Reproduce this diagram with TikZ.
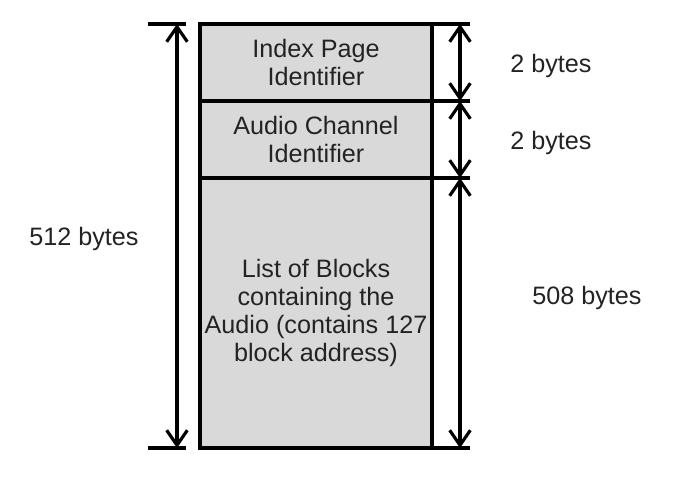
\documentclass[tikz,border=0pt]{standalone}
\usepackage{fontspec}
\setmainfont{Liberation Sans}
\usetikzlibrary{arrows.meta}
\definecolor{fieldgray}{RGB}{217,217,217}
\definecolor{textgray}{RGB}{35,35,35}
\begin{document}
\begin{tikzpicture}[x=0.03cm, y=-0.03cm, line width=2.7pt,
  field/.style={rectangle, draw=black, fill=fieldgray,
    align=center, anchor=north west,
    minimum width=6.96cm, inner sep=0, outer sep=0,
    text=textgray, font=\fontsize{21.5}{24}\selectfont},
  label/.style={anchor=base, inner sep=0, text=textgray,
    font=\fontsize{21.5}{24}\selectfont},
  dim/.style={{Straight Barb[length=0.45cm, width=0.62cm]}-{Straight Barb[length=0.45cm, width=0.62cm]}}]
  \useasboundingbox (0,0) rectangle (693,487);

  % the three fields of the index page
  \node[field, minimum height=2.31cm] (box1) at (200,24) {Index Page\\Identifier};
  \node[field, minimum height=2.31cm] (box2) at (box1.south west) {Audio Channel\\Identifier};
  \node[field, minimum height=8.1cm] (box3) at (box2.south west) {List of Blocks\\containing the\\Audio (contains 127\\block address)};

  % ticks on the right
  \draw (box1.north east) -- ([xshift=1.14cm]box1.north east);
  \draw (box2.north east) -- ([xshift=1.14cm]box2.north east);
  \draw (box3.north east) -- ([xshift=1.14cm]box3.north east);
  \draw (box3.south east) -- ([xshift=1.14cm]box3.south east);

  \draw[dim] ([xshift=0.84cm]box1.north east) -- ([xshift=0.84cm]box1.south east);
  \draw[dim] ([xshift=0.84cm]box2.north east) -- ([xshift=0.84cm]box2.south east);
  \draw[dim] ([xshift=0.84cm]box3.north east) -- ([xshift=0.84cm]box3.south east);

  % ticks on the left
  \draw ([xshift=-1.56cm]box1.north west) -- ([xshift=-0.42cm]box1.north west);
  \draw ([xshift=-1.56cm]box3.south west) -- ([xshift=-0.42cm]box3.south west);
  \draw[dim] ([xshift=-0.69cm]box1.north west) -- ([xshift=-0.69cm]box3.south west);

  \node[label] (size1) at (84,246) {512 bytes};
  \node[label] (size2) at (551,73) {2 bytes};
  \node[label] (size3) at (551,150) {2 bytes};
  \node[label] (size4) at (587,305) {508 bytes};
\end{tikzpicture}
\end{document}
